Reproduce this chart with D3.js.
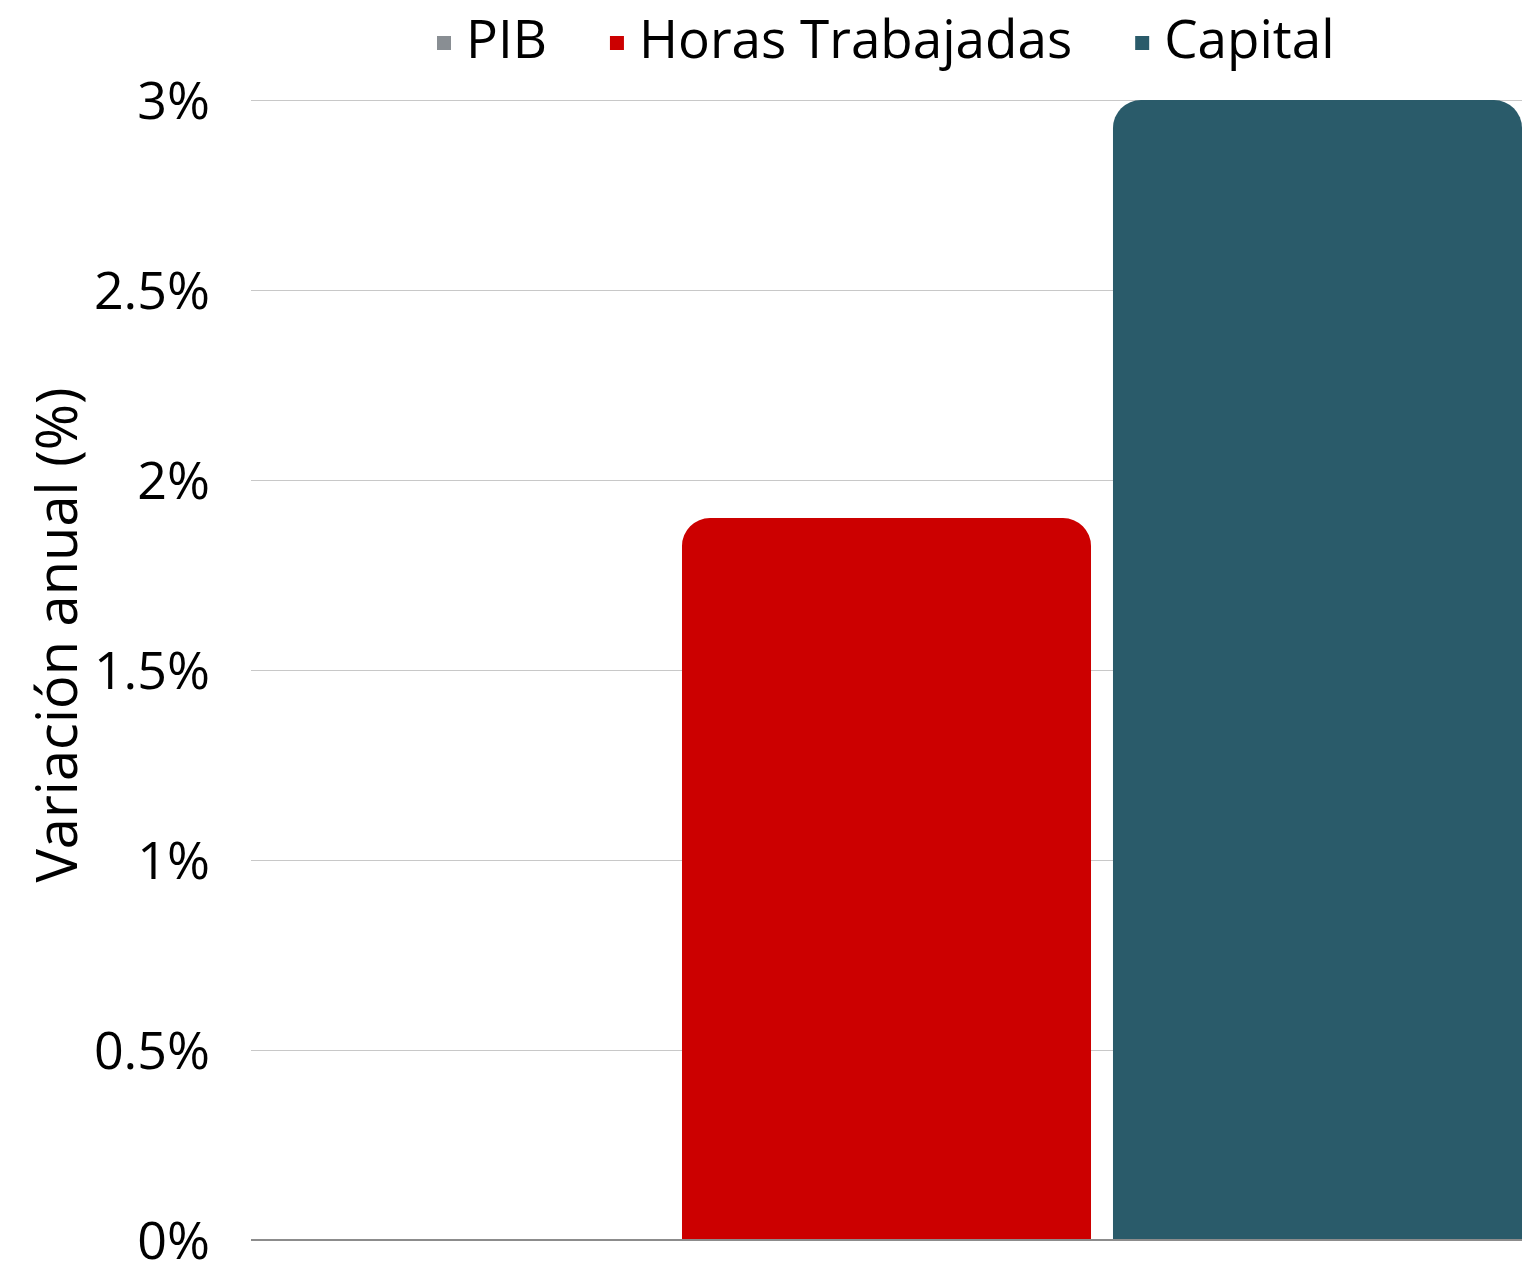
<!DOCTYPE html>
<html>
<head>
<meta charset="utf-8">
<script src="https://cdn.jsdelivr.net/npm/d3@7"></script>
<style>
  html, body { margin: 0; padding: 0; background: #ffffff; }
  svg { display: block; font-family: "Open Sans", "Noto Sans", sans-serif; }
</style>
</head>
<body>
<svg id="chart" width="1538" height="1262"></svg>
<script>
// ---- data ----
const series = ["PIB", "Horas Trabajadas", "Capital"];
const values = [0, 1.9, 3.0];
const colors = ["#898E93", "#CC0000", "#2A5B6A"];
const yTicks = [0, 0.5, 1, 1.5, 2, 2.5, 3];
const yTickLabels = ["0%", "0.5%", "1%", "1.5%", "2%", "2.5%", "3%"];
const yTitle = "Variación anual (%)";

// ---- layout ----
const W = 1538, H = 1262;
const margin = { left: 251, right: 16, top: 100, bottom: 22 };
const svg = d3.select("#chart");

const x = d3.scaleBand()
  .domain(series)
  .range([margin.left, W - margin.right])
  .paddingInner(0.051)
  .paddingOuter(0);

const y = d3.scaleLinear()
  .domain([0, 3])
  .range([H - margin.bottom, margin.top]);

// gridlines
svg.append("g")
  .selectAll("line")
  .data(yTicks.filter(d => d !== 0))
  .join("line")
  .attr("x1", margin.left)
  .attr("x2", W - margin.right)
  .attr("y1", d => Math.round(y(d)) + 0.5)
  .attr("y2", d => Math.round(y(d)) + 0.5)
  .attr("stroke", "#C8C8C8")
  .attr("stroke-width", 1);

// y axis labels
const yAxis = d3.axisLeft(y)
  .tickValues(yTicks)
  .tickFormat((d, i) => yTickLabels[i])
  .tickSize(0)
  .tickPadding(0);
const gy = svg.append("g")
  .attr("transform", `translate(${210},0)`)
  .call(yAxis);
gy.select(".domain").remove();
gy.selectAll("text")
  .attr("font-size", 52)
  .attr("fill", "#000")
  .attr("dy", "0.35em")
  .style("font-family", "'Open Sans', 'Noto Sans', sans-serif");

// bars with rounded top corners
const r = 28;
function barPath(x0, w, yTop, yBase) {
  const h = yBase - yTop;
  if (h <= 0) return "";
  const rr = Math.min(r, h, w / 2);
  return `M${x0},${yBase}` +
    `V${yTop + rr}` +
    `A${rr},${rr} 0 0 1 ${x0 + rr},${yTop}` +
    `H${x0 + w - rr}` +
    `A${rr},${rr} 0 0 1 ${x0 + w},${yTop + rr}` +
    `V${yBase}Z`;
}
svg.append("g")
  .selectAll("path")
  .data(series.map((s, i) => ({ s, v: values[i], c: colors[i] })))
  .join("path")
  .attr("d", d => barPath(x(d.s), x.bandwidth(), y(d.v), y(0)))
  .attr("fill", d => d.c);

// baseline
svg.append("line")
  .attr("x1", margin.left)
  .attr("x2", W - margin.right)
  .attr("y1", y(0))
  .attr("y2", y(0))
  .attr("stroke", "#8C8C8C")
  .attr("stroke-width", 2);

// y title
svg.append("text")
  .attr("transform", `translate(77,635) rotate(-90)`)
  .attr("text-anchor", "middle")
  .attr("font-size", 56)
  .attr("fill", "#000")
  .text(yTitle);

// legend
const legend = svg.append("g");
const sq = 14, gapText = 15, gapItem = 63;
const items = [];
series.forEach((s, i) => {
  const g = legend.append("g");
  g.append("rect").attr("x", 0).attr("y", -22).attr("width", sq).attr("height", sq).attr("fill", colors[i]);
  const t = g.append("text").attr("x", sq + gapText).attr("y", 0).attr("font-size", 53).attr("fill", "#000").text(s);
  const w = sq + gapText + t.node().getComputedTextLength();
  items.push({ g, w });
});
let total = items.reduce((a, b) => a + b.w, 0) + gapItem * (items.length - 1);
let start = 437;
items.forEach(it => {
  it.g.attr("transform", `translate(${start},58)`);
  start += it.w + gapItem;
});
</script>
</body>
</html>
